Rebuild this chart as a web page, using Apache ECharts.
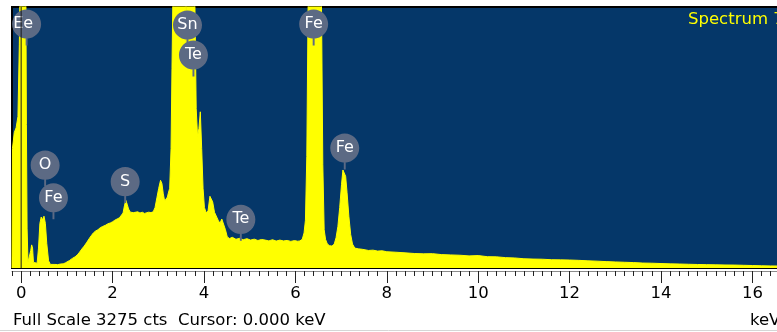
<!DOCTYPE html>
<html>
<head>
<meta charset="utf-8">
<script src="https://cdn.jsdelivr.net/npm/echarts@6/dist/echarts.min.js"></script>
<style>
  html, body { margin: 0; padding: 0; background: #fff; }
  #chart { width: 777px; height: 332px; }
</style>
</head>
<body>
<div id="chart"></div>
<script>
const spectrumName = 'Spectrum 7';
const fullScale = 3275;      // cts
const cursorKeV = 0.000;
const tickKeV = [0, 2, 4, 6, 8, 10, 12, 14, 16];

// [keV, counts]
const spectrum = [
  [-0.20, 0], [-0.19, 1500], [-0.15, 1700], [-0.11, 1760], [-0.07, 1900], [-0.04, 2800],
  [-0.01, 4200], [0.03, 5200], [0.07, 5000], [0.10, 4000], [0.115, 1800], [0.13, 500],
  [0.15, 70], [0.19, 50], [0.21, 220], [0.23, 290], [0.25, 250], [0.27, 70], [0.31, 45],
  [0.35, 60], [0.38, 250], [0.41, 560], [0.44, 640], [0.46, 600], [0.48, 590], [0.50, 650],
  [0.53, 560], [0.56, 310], [0.60, 90], [0.64, 45], [0.68, 38], [0.74, 45], [0.80, 42],
  [0.86, 50], [0.92, 52], [0.97, 65], [1.01, 75], [1.06, 95], [1.12, 120], [1.18, 140],
  [1.23, 165], [1.28, 200], [1.33, 240], [1.38, 275], [1.44, 325], [1.49, 370], [1.54, 410],
  [1.58, 440], [1.63, 465], [1.68, 480], [1.73, 505], [1.78, 520], [1.84, 535], [1.90, 555],
  [1.95, 565], [2.00, 580], [2.05, 600], [2.10, 615], [2.15, 630], [2.19, 650], [2.23, 690],
  [2.26, 780], [2.29, 850], [2.32, 800], [2.35, 740], [2.39, 700], [2.42, 690], [2.46, 695],
  [2.50, 680], [2.55, 705], [2.60, 690], [2.65, 700], [2.70, 685], [2.74, 680], [2.79, 700],
  [2.84, 695], [2.89, 705], [2.93, 760], [2.97, 880], [3.01, 1000], [3.05, 1100], [3.08, 1060],
  [3.11, 930], [3.14, 840], [3.17, 830], [3.20, 890], [3.22, 940], [3.25, 1000], [3.28, 1500],
  [3.30, 2500], [3.32, 3400], [3.36, 4600], [3.42, 5400], [3.48, 5500], [3.53, 5000],
  [3.58, 4300], [3.605, 2600], [3.63, 4300], [3.66, 5200], [3.71, 4900], [3.76, 4300],
  [3.80, 3400], [3.83, 2000], [3.86, 1650], [3.89, 1750], [3.92, 1960], [3.95, 1500],
  [3.98, 1000], [4.01, 760], [4.05, 690], [4.09, 720], [4.13, 900], [4.16, 920], [4.19, 830],
  [4.23, 700], [4.27, 680], [4.31, 600], [4.35, 560], [4.39, 615], [4.43, 590], [4.47, 480],
  [4.51, 390], [4.56, 370], [4.62, 385], [4.70, 360], [4.78, 372], [4.86, 355], [4.94, 368],
  [5.02, 350], [5.10, 362], [5.18, 345], [5.26, 358], [5.34, 350], [5.42, 340], [5.50, 355],
  [5.58, 338], [5.66, 350], [5.74, 340], [5.82, 346], [5.90, 334], [5.98, 344], [6.05, 336],
  [6.10, 340], [6.15, 360], [6.19, 440], [6.22, 600], [6.25, 1400], [6.28, 3400], [6.34, 5500],
  [6.40, 6400], [6.46, 5800], [6.52, 4500], [6.57, 3400], [6.60, 1300], [6.63, 480],
  [6.66, 360], [6.70, 300], [6.75, 280], [6.80, 275], [6.85, 300], [6.89, 380], [6.93, 520],
  [6.97, 760], [7.01, 1050], [7.04, 1230], [7.07, 1250], [7.10, 1150], [7.13, 950], [7.17, 650],
  [7.21, 420], [7.25, 300], [7.30, 250], [7.38, 240], [7.46, 235], [7.5, 228], [7.6, 220],
  [7.7, 224], [7.8, 212], [7.9, 216], [8.0, 204], [8.2, 198], [8.4, 190], [8.6, 182],
  [8.8, 178], [9.0, 180], [9.2, 168], [9.4, 164], [9.6, 160], [9.8, 152], [10.0, 156],
  [10.2, 142], [10.4, 140], [10.6, 130], [10.8, 126], [11.0, 116], [11.2, 112], [11.4, 110],
  [11.6, 104], [11.8, 102], [12.0, 100], [12.2, 96], [12.4, 90], [12.6, 86], [12.8, 80],
  [13.0, 76], [13.2, 72], [13.4, 68], [13.6, 62], [13.8, 60], [14.0, 56], [14.2, 52],
  [14.4, 50], [14.6, 47], [14.8, 44], [15.0, 42], [15.2, 40], [15.4, 38], [15.6, 37],
  [15.8, 34], [16.0, 31], [16.2, 28], [16.4, 26], [16.6, 25], [16.8, 24]
];

// element markers
const peakNames = ['Ee', 'O', 'Fe', 'S', 'Sn', 'Te', 'Te', 'Fe', 'Fe'];
const peakKeV   = [0.12, 0.525, 0.707, 2.276, 3.64, 3.77, 4.807, 6.40, 7.08];
const peakCts   = [3062, 1292, 882, 1085, 3049, 2673, 611, 3062, 1506];

const font = '"DejaVu Sans", Verdana, sans-serif';
const pin = 'path://M15,0C23.28,0,30,6.72,30,15C30,23.28,23.28,30,15,30C6.72,30,0,23.28,0,15C0,6.72,6.72,0,15,0ZM14,29L16,29L16,37L14,37Z';

const chart = echarts.init(document.getElementById('chart'));

const baseX = { type: 'value', min: -0.2, max: 16.8, position: 'bottom',
  splitLine: { show: false }, axisLabel: { show: false }, axisTick: { show: false }, axisLine: { show: false } };

chart.setOption({
  animation: false,
  grid: { left: 12, top: 7, width: 777, height: 261, show: true, outerBoundsMode: 'none',
    backgroundColor: '#053769', borderColor: '#000', borderWidth: 2 },
  xAxis: [
    Object.assign({}, baseX, { z: 5, axisLine: { show: true, lineStyle: { color: '#000', width: 1 } } }),
    Object.assign({}, baseX, {
      offset: 3,
      axisLine: { show: true, lineStyle: { color: '#8c8c8c', width: 1 } },
      axisTick: { show: true, customValues: tickKeV, length: 12, lineStyle: { color: '#222' } },
      axisLabel: { show: true, customValues: tickKeV, margin: 14, color: '#000', fontSize: 16.5, fontFamily: font }
    }),
    Object.assign({}, baseX, {
      offset: 3, interval: 0.2,
      axisTick: { show: true, length: 5, lineStyle: { color: '#222' } }
    })
  ],
  yAxis: { type: 'value', min: 0, max: fullScale, show: false },
  series: [
    {
      type: 'line', z: 2, data: spectrum, symbol: 'none', silent: true,
      lineStyle: { color: '#ffff00', width: 1 },
      areaStyle: { color: '#ffff00', opacity: 1 }
    },
    {
      type: 'scatter', z: 4, silent: true, clip: false,
      symbol: pin, symbolSize: [29, 36], symbolOffset: [0, 3.5],
      itemStyle: { color: '#5c6a84', opacity: 1 },
      label: { show: true, position: 'inside', formatter: p => p.name, offset: [0, -3.5],
        color: '#fff', fontSize: 16, fontFamily: font },
      data: peakNames.map((n, i) => {
        const d = { name: n, value: [peakKeV[i], peakCts[i]] };
        if (i === 0) d.label = { offset: [-3.5, -3.5] };
        return d;
      })
    },
    {
      type: 'line', z: 6, silent: true, symbol: 'none',
      data: [[cursorKeV, 0], [cursorKeV, fullScale]],
      lineStyle: { color: '#1a1a1a', width: 1 }
    }
  ],
  graphic: [
    { type: 'text', z: 10, x: 688, y: 20,
      style: { text: spectrumName, fill: '#ffff00', fontSize: 16.5, fontFamily: font, verticalAlign: 'middle' } },
    { type: 'text', z: 10, x: 13, y: 321,
      style: { text: 'Full Scale ' + fullScale + ' cts  Cursor: ' + cursorKeV.toFixed(3) + ' keV',
        fill: '#000', fontSize: 16.5, fontFamily: font, verticalAlign: 'middle' } },
    { type: 'text', z: 10, x: 750, y: 321,
      style: { text: 'keV', fill: '#000', fontSize: 16.5, fontFamily: font, verticalAlign: 'middle' } },
    { type: 'line', z: 10, shape: { x1: 0, y1: 330.5, x2: 777, y2: 330.5 },
      style: { stroke: '#d6d6d6', lineWidth: 1 } }
  ]
});
</script>
</body>
</html>
